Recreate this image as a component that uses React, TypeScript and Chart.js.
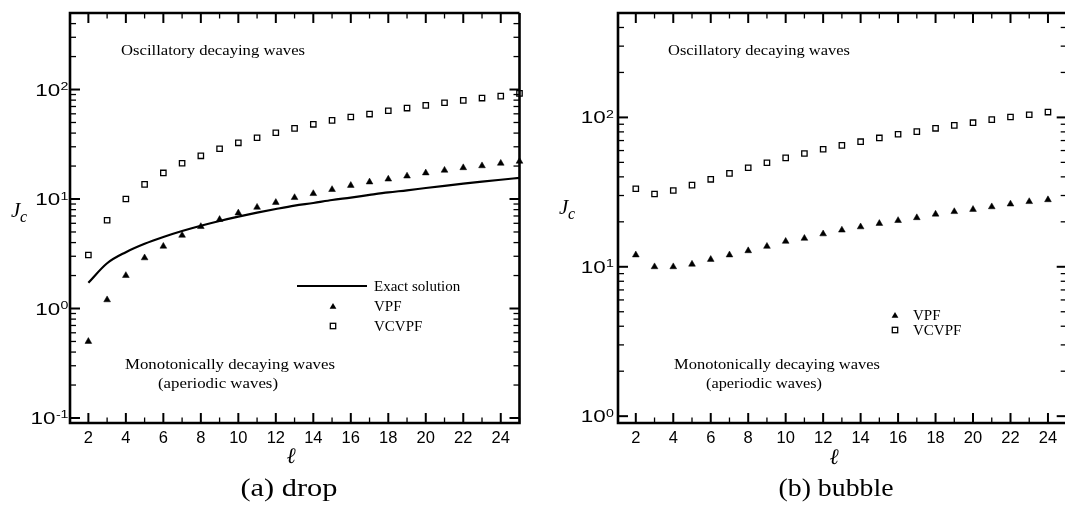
import React, { useEffect, useRef } from "react";
import { Chart, registerables } from "chart.js";

Chart.register(...registerables);

// ---------------- data ----------------
const ELL_DROP = [2, 3, 4, 5, 6, 7, 8, 9, 10, 11, 12, 13, 14, 15, 16, 17, 18, 19, 20, 21, 22, 23, 24, 25];
const DROP_EXACT = [1.72, 2.59, 3.27, 3.9, 4.5, 5.1, 5.7, 6.3, 6.9, 7.5, 8.1, 8.7, 9.2, 9.8, 10.3, 10.9, 11.5, 12.0, 12.6, 13.2, 13.8, 14.4, 15.0, 15.6];
const DROP_VPF = [0.5, 1.2, 2.0, 2.9, 3.7, 4.66, 5.6, 6.5, 7.45, 8.4, 9.3, 10.3, 11.2, 12.2, 13.3, 14.3, 15.2, 16.2, 17.3, 18.3, 19.3, 20.1, 21.2, 22.1];
const DROP_VCVPF = [3.08, 6.4, 10.0, 13.6, 17.3, 21.2, 24.8, 28.8, 32.6, 36.3, 40.3, 44.2, 48.1, 52.3, 56.1, 59.7, 64.0, 67.7, 71.7, 75.7, 79.6, 83.6, 87.1, 92.2];

const ELL_BUBBLE = [2, 3, 4, 5, 6, 7, 8, 9, 10, 11, 12, 13, 14, 15, 16, 17, 18, 19, 20, 21, 22, 23, 24];
const BUBBLE_VPF = [12.0, 10.0, 10.0, 10.4, 11.2, 12.0, 12.8, 13.7, 14.8, 15.5, 16.6, 17.6, 18.5, 19.5, 20.4, 21.3, 22.5, 23.4, 24.2, 25.2, 26.3, 27.3, 28.1];
const BUBBLE_VCVPF = [33.3, 30.7, 32.4, 35.2, 38.5, 42.2, 46.0, 49.7, 53.6, 57.3, 61.2, 65.0, 68.8, 72.9, 77.1, 80.3, 84.5, 88.4, 92.2, 96.6, 100.6, 104.2, 108.6];

const X_TICK_LABELS = [2, 4, 6, 8, 10, 12, 14, 16, 18, 20, 22, 24];
const DROP_Y_EXPONENTS = [-1, 0, 1, 2];
const BUBBLE_Y_EXPONENTS = [0, 1, 2];

const SERIES_EXACT = "Exact solution";
const SERIES_VPF = "VPF";
const SERIES_VCVPF = "VCVPF";
const NOTE_TOP = "Oscillatory decaying waves";
const NOTE_BOTTOM_1 = "Monotonically decaying waves";
const NOTE_BOTTOM_2 = "(aperiodic waves)";
const CAPTION_DROP = "(a) drop";
const CAPTION_BUBBLE = "(b) bubble";
const X_TITLE = "\u2113";

// ---------------- styling ----------------
const SANS = "'Liberation Sans', Arimo, Arial, sans-serif";
const SERIF = "'Liberation Serif', Tinos, 'Times New Roman', serif";

function drawScaled(ctx: CanvasRenderingContext2D, text: string, x: number, y: number, font: string, sx: number, align: "left" | "right" | "center") {
  ctx.save();
  ctx.font = font;
  ctx.textAlign = "left";
  ctx.textBaseline = "alphabetic";
  const w = ctx.measureText(text).width * sx;
  const left = align === "right" ? x - w : align === "center" ? x - w / 2 : x;
  ctx.translate(left, y);
  ctx.scale(sx, 1);
  ctx.fillText(text, 0, 0);
  ctx.restore();
  return w;
}

function drawFit(ctx: CanvasRenderingContext2D, text: string, left: number, y: number, font: string, width: number) {
  ctx.save();
  ctx.font = font;
  const w = ctx.measureText(text).width;
  ctx.restore();
  drawScaled(ctx, text, left, y, font, width / w, "left");
}

function triangle(ctx: CanvasRenderingContext2D, x: number, y: number, r: number) {
  ctx.beginPath();
  ctx.moveTo(x, y - r);
  ctx.lineTo(x + r * 0.866, y + r / 2);
  ctx.lineTo(x - r * 0.866, y + r / 2);
  ctx.closePath();
  ctx.fill();
}

function square(ctx: CanvasRenderingContext2D, x: number, y: number, s: number) {
  ctx.fillStyle = "#fff";
  ctx.fillRect(x - s / 2, y - s / 2, s, s);
  ctx.lineWidth = 1.3;
  ctx.strokeRect(x - s / 2, y - s / 2, s, s);
  ctx.fillStyle = "#000";
}

type Note = { text: string; left: number; y: number; w: number };
type LegendItem = { kind: "line" | "tri" | "sq"; mx: number; my: number; text: string; tx: number };
type PanelCfg = {
  canvasLeft: number;
  yExps: number[];
  labelGap: number;
  drawRightBorder: boolean;
  jc: { jx: number; jy: number; cx: number; cy: number };
  ell: { x: number; y: number };
  caption: { text: string; cx: number; y: number; w: number };
  notes: Note[];
  legend: LegendItem[];
};

function framePlugin(cfg: PanelCfg) {
  return {
    id: "frame",
    afterDraw(chart: any) {
      const ctx: CanvasRenderingContext2D = chart.ctx;
      const a = chart.chartArea;
      const xs = chart.scales.x;
      const ys = chart.scales.y;
      const off = cfg.canvasLeft;
      ctx.save();
      ctx.strokeStyle = "#000";
      ctx.fillStyle = "#000";
      ctx.lineCap = "butt";
      const seg = (x1: number, y1: number, x2: number, y2: number, w: number) => {
        ctx.lineWidth = w;
        ctx.beginPath();
        ctx.moveTo(x1, y1);
        ctx.lineTo(x2, y2);
        ctx.stroke();
      };
      // x ticks (bottom and top, inward)
      for (let v = Math.ceil(xs.min); v <= Math.floor(xs.max + 1e-6); v++) {
        const px = xs.getPixelForValue(v);
        const major = v % 2 === 0;
        const len = major ? 10 : 5.5;
        const w = major ? 2 : 1.3;
        seg(px, a.bottom, px, a.bottom - len, w);
        seg(px, a.top, px, a.top + len, w);
      }
      // y ticks (left and right, inward)
      const dLo = Math.floor(Math.log10(ys.min));
      const dHi = Math.ceil(Math.log10(ys.max));
      for (let d = dLo; d <= dHi; d++) {
        for (let m = 1; m <= 9; m++) {
          const v = m * Math.pow(10, d);
          if (v < ys.min * 0.999 || v > ys.max * 0.999) continue;
          const py = ys.getPixelForValue(v);
          const major = m === 1;
          const len = major ? 10 : 6;
          const w = major ? 2 : 1.3;
          seg(a.left, py, a.left + len, py, w);
          seg(a.right, py, a.right - len, py, w);
        }
      }
      // frame
      ctx.lineWidth = 2.6;
      ctx.beginPath();
      ctx.moveTo(a.right, a.top);
      ctx.lineTo(a.left, a.top);
      ctx.lineTo(a.left, a.bottom);
      ctx.lineTo(a.right, a.bottom);
      if (cfg.drawRightBorder) ctx.lineTo(a.right, a.top);
      ctx.stroke();

      // x tick labels
      ctx.font = `16.5px ${SANS}`;
      ctx.textAlign = "center";
      ctx.textBaseline = "middle";
      for (const v of X_TICK_LABELS) {
        ctx.fillText(String(v), xs.getPixelForValue(v), 438.5);
      }
      // y tick labels 10^n
      for (const e of cfg.yExps) {
        const py = ys.getPixelForValue(Math.pow(10, e));
        const expFont = `10.5px ${SANS}`;
        ctx.font = expFont;
        const ew = ctx.measureText(String(e)).width * 1.35;
        const right = a.left - cfg.labelGap;
        drawScaled(ctx, String(e), right, py + 0.5, expFont, 1.35, "right");
        drawScaled(ctx, "10", right - ew - 0.5, py + 6, `16px ${SANS}`, 1.4, "right");
      }
      // axis titles
      drawScaled(ctx, "J", cfg.jc.jx - off, cfg.jc.jy, `italic 21px ${SERIF}`, 1, "left");
      drawScaled(ctx, "c", cfg.jc.cx - off, cfg.jc.cy, `italic 16px ${SERIF}`, 1, "left");
      drawScaled(ctx, X_TITLE, cfg.ell.x - off, cfg.ell.y, `italic 22px ${SERIF}`, 1, "center");
      // caption
      const cw = cfg.caption.w;
      drawFit(ctx, cfg.caption.text, cfg.caption.cx - cw / 2 - off, cfg.caption.y, `25px ${SERIF}`, cw);
      // notes
      for (const n of cfg.notes) drawFit(ctx, n.text, n.left - off, n.y, `15px ${SERIF}`, n.w);
      // legend
      for (const it of cfg.legend) {
        if (it.kind === "line") seg(it.mx - 35 - off, it.my, it.mx + 35 - off, it.my, 2.2);
        else if (it.kind === "tri") triangle(ctx, it.mx - off, it.my + 0.8, 3.9);
        else square(ctx, it.mx - off, it.my, 5.4);
        drawScaled(ctx, it.text, it.tx - off, it.my + 5, `15px ${SERIF}`, 1, "left");
      }
      ctx.restore();
    },
  };
}

const pts = (xs: number[], ys: number[]) => xs.map((x, i) => ({ x, y: ys[i] }));

function makeChart(canvas: HTMLCanvasElement, datasets: any[], pad: any, xMin: number, xMax: number, yMin: number, yMax: number, cfg: PanelCfg) {
  return new Chart(canvas, {
    type: "scatter",
    data: { datasets },
    options: {
      responsive: false,
      animation: false,
      events: [],
      layout: { padding: pad },
      plugins: { legend: { display: false }, tooltip: { enabled: false } },
      scales: {
        x: { type: "linear", min: xMin, max: xMax, display: false },
        y: { type: "logarithmic", min: yMin, max: yMax, display: false },
      },
    },
    plugins: [framePlugin(cfg)],
  } as any);
}

const vpfStyle = {
  pointStyle: "triangle",
  pointRadius: 3.9,
  backgroundColor: "#000",
  borderColor: "#000",
  borderWidth: 0.5,
  showLine: false,
  clip: 10,
};
const vcvpfStyle = {
  pointStyle: "rect",
  pointRadius: 3.8,
  backgroundColor: "#fff",
  borderColor: "#000",
  borderWidth: 1.3,
  showLine: false,
  clip: 10,
};

export default function App() {
  const leftRef = useRef<HTMLCanvasElement | null>(null);
  const rightRef = useRef<HTMLCanvasElement | null>(null);

  useEffect(() => {
    const left = makeChart(
      leftRef.current!,
      [
        { label: SERIES_EXACT, data: pts(ELL_DROP, DROP_EXACT), showLine: true, pointRadius: 0, borderColor: "#000", borderWidth: 2.2, cubicInterpolationMode: "monotone" },
        { label: SERIES_VPF, data: pts(ELL_DROP, DROP_VPF), ...vpfStyle },
        { label: SERIES_VCVPF, data: pts(ELL_DROP, DROP_VCVPF), ...vcvpfStyle },
      ],
      { left: 70, top: 13, right: 532 - 519.5, bottom: 82 },
      1.02, 25, 0.09, 500,
      {
        canvasLeft: 0,
        yExps: DROP_Y_EXPONENTS,
        labelGap: 1.5,
        drawRightBorder: true,
        jc: { jx: 11, jy: 217, cx: 20, cy: 222 },
        ell: { x: 291, y: 463 },
        caption: { text: CAPTION_DROP, cx: 289, y: 496, w: 97 },
        notes: [
          { text: NOTE_TOP, left: 121, y: 55, w: 184 },
          { text: NOTE_BOTTOM_1, left: 125, y: 369, w: 210 },
          { text: NOTE_BOTTOM_2, left: 158, y: 388, w: 120 },
        ],
        legend: [
          { kind: "line", mx: 332, my: 286, text: SERIES_EXACT, tx: 374 },
          { kind: "tri", mx: 333, my: 306, text: SERIES_VPF, tx: 374 },
          { kind: "sq", mx: 333, my: 326, text: SERIES_VCVPF, tx: 374 },
        ],
      }
    );
    const right = makeChart(
      rightRef.current!,
      [
        { label: SERIES_VPF, data: pts(ELL_BUBBLE, BUBBLE_VPF), ...vpfStyle },
        { label: SERIES_VCVPF, data: pts(ELL_BUBBLE, BUBBLE_VCVPF), ...vcvpfStyle },
      ],
      { left: 618 - 532, top: 13, right: 4, bottom: 82 },
      1.05, 25, 0.9, 500,
      {
        canvasLeft: 532,
        yExps: BUBBLE_Y_EXPONENTS,
        labelGap: 4,
        drawRightBorder: false,
        jc: { jx: 559, jy: 214, cx: 568, cy: 219 },
        ell: { x: 834, y: 464 },
        caption: { text: CAPTION_BUBBLE, cx: 836, y: 496, w: 115 },
        notes: [
          { text: NOTE_TOP, left: 668, y: 55, w: 182 },
          { text: NOTE_BOTTOM_1, left: 674, y: 369, w: 206 },
          { text: NOTE_BOTTOM_2, left: 706, y: 388, w: 116 },
        ],
        legend: [
          { kind: "tri", mx: 895, my: 315, text: SERIES_VPF, tx: 913 },
          { kind: "sq", mx: 895, my: 330, text: SERIES_VCVPF, tx: 913 },
        ],
      }
    );
    return () => {
      left.destroy();
      right.destroy();
    };
  }, []);

  return (
    <div style={{ position: "absolute", left: 0, top: 0, width: 1065, height: 505, overflow: "hidden", background: "#fff" }}>
      <canvas ref={leftRef} width={532} height={505} style={{ position: "absolute", left: 0, top: 0 }} />
      <canvas ref={rightRef} width={540} height={505} style={{ position: "absolute", left: 532, top: 0 }} />
    </div>
  );
}
